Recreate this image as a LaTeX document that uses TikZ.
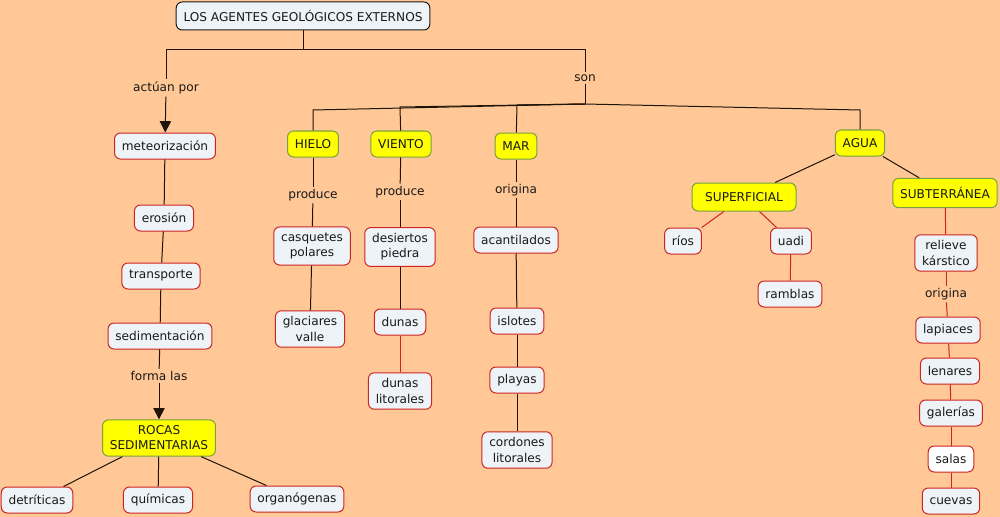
\documentclass[tikz,border=0pt]{standalone}
\usepackage{fontspec}
\setmainfont{DejaVu Sans}
\usetikzlibrary{arrows.meta}

\definecolor{mapbg}{RGB}{255,200,150}
\definecolor{conceptfill}{RGB}{238,243,247}
\definecolor{conceptred}{RGB}{205,35,35}
\definecolor{agentyellow}{RGB}{255,255,0}
\definecolor{agentgreen}{RGB}{120,160,60}
\definecolor{inkdark}{RGB}{25,25,25}
\definecolor{inkline}{RGB}{30,20,10}

\tikzset{every picture/.style={line width=0.75pt}}
\tikzset{
  concept/.style={draw=conceptred, fill=conceptfill, rounded corners=4.5pt,
    inner xsep=5.5pt, inner ysep=4.5pt, minimum height=19.5pt, align=center,
    font=\fontsize{9.1}{11.3}\selectfont, text=inkdark},
  agent/.style={concept, draw=agentgreen, fill=agentyellow},
  phrase/.style={inner sep=1.5pt, font=\fontsize{9.1}{11.3}\selectfont, text=inkdark},
  tie/.style={draw=inkline},
  redtie/.style={draw=conceptred},
  pointer/.style={tie, -{Triangle[width=8.5pt,length=8.5pt]}}
}

\begin{document}
\begin{tikzpicture}[x=0.75pt, y=-0.75pt]
        \fill[mapbg] (0,0) rectangle (1000,517);
        \useasboundingbox (0,0) rectangle (1000,517);
        % title and first split
        \node[concept, draw=inkdark, minimum height=21pt] (title) at (303,16) {LOS AGENTES GEOLÓGICOS EXTERNOS};
        \node[phrase] (actuan) at (166,88) {actúan por};
        \node[phrase] (son) at (585,78) {son};
        \coordinate (fork) at (303,50);
        \coordinate (sonfoot) at (585,104);
        \draw[tie] (title) -- (fork);
        \draw[tie] (fork) -| (actuan);
        \draw[tie] (fork) -| (son);
        \draw[tie] (son) -- (sonfoot);
        % processes
        \node[concept] (meteo) at (165,146) {meteorización};
        \node[concept] (erosion) at (164,218) {erosión};
        \node[concept] (transporte) at (161,276) {transporte};
        \node[concept] (sedimen) at (160,336) {sedimentación};
        \node[phrase] (formalas) at (159,376) {forma las};
        \node[agent] (rocas) at (159,438) {ROCAS\\SEDIMENTARIAS};
        \node[concept] (detriticas) at (37,500) {detríticas};
        \node[concept] (quimicas) at (158,500) {químicas};
        \node[concept] (organogenas) at (297,499) {organógenas};
        \draw[pointer] (actuan) -- (meteo);
        \draw[tie] (meteo) -- (erosion);
        \draw[tie] (erosion) -- (transporte);
        \draw[tie] (transporte) -- (sedimen);
        \draw[tie] (sedimen) -- (formalas);
        \draw[pointer] (formalas) -- (rocas);
        \draw[tie] (rocas) -- (detriticas);
        \draw[tie] (rocas) -- (quimicas);
        \draw[tie] (rocas) -- (organogenas);
        % hielo
        \node[agent] (hielo) at (313,144) {HIELO};
        \node[phrase] (produceA) at (313,195) {produce};
        \node[concept] (casquetes) at (312,246) {casquetes\\polares};
        \node[concept] (glaciares) at (310,329) {glaciares\\valle};
        \draw[tie] (sonfoot) -- (313,110) -- (hielo);
        \draw[tie] (hielo) -- (produceA);
        \draw[tie] (produceA) -- (casquetes);
        \draw[tie] (casquetes) -- (glaciares);
        % viento
        \node[agent] (viento) at (401,144) {VIENTO};
        \node[phrase] (produceB) at (400,192) {produce};
        \node[concept] (desiertos) at (400,247) {desiertos\\piedra};
        \node[concept] (dunas) at (400,322) {dunas};
        \node[concept] (dunaslit) at (400,391) {dunas\\litorales};
        \draw[tie] (sonfoot) -- (400,107) -- (viento);
        \draw[tie] (viento) -- (produceB);
        \draw[tie] (produceB) -- (desiertos);
        \draw[tie] (desiertos) -- (dunas);
        \draw[redtie] (dunas) -- (dunaslit);
        % mar
        \node[agent] (mar) at (516,146) {MAR};
        \node[phrase] (originaA) at (516,190) {origina};
        \node[concept] (acantilados) at (516,240) {acantilados};
        \node[concept] (islotes) at (517,321) {islotes};
        \node[concept] (playas) at (517,380) {playas};
        \node[concept] (cordones) at (517,450) {cordones\\litorales};
        \draw[tie] (sonfoot) -- (517,105) -- (mar);
        \draw[tie] (mar) -- (originaA);
        \draw[tie] (originaA) -- (acantilados);
        \draw[tie] (acantilados) -- (islotes);
        \draw[tie] (islotes) -- (playas);
        \draw[tie] (playas) -- (cordones);
        % agua
        \node[agent] (agua) at (860,143) {AGUA};
        \node[agent, minimum width=78pt, minimum height=21pt] (superficial) at (744,197) {SUPERFICIAL};
        \node[agent, minimum height=22pt] (subterranea) at (945,193) {SUBTERRÁNEA};
        \node[concept] (rios) at (683,241) {ríos};
        \node[concept] (uadi) at (791,241) {uadi};
        \node[concept] (ramblas) at (790,294) {ramblas};
        \node[concept] (karst) at (946,253) {relieve\\kárstico};
        \node[phrase] (originaB) at (946,294) {origina};
        \node[concept] (lapiaces) at (948,330) {lapiaces};
        \node[concept] (lenares) at (950,371) {lenares};
        \node[concept] (galerias) at (951,413) {galerías};
        \node[concept, fill=white] (salas) at (951,459) {salas};
        \node[concept] (cuevas) at (951,501) {cuevas};
        \draw[tie] (sonfoot) -- (860,110) -- (agua);
        \draw[tie] (agua) -- (superficial);
        \draw[tie] (agua) -- (subterranea);
        \draw[redtie] (superficial) -- (rios);
        \draw[redtie] (superficial) -- (uadi);
        \draw[redtie] (uadi) -- (ramblas);
        \draw[redtie] (subterranea) -- (karst);
        \draw[redtie] (karst) -- (originaB);
        \draw[redtie] (originaB) -- (lapiaces);
        \draw[redtie] (lapiaces) -- (lenares);
        \draw[redtie] (lenares) -- (galerias);
        \draw[redtie] (galerias) -- (salas);
        \draw[redtie] (salas) -- (cuevas);
    \end{tikzpicture}
\end{document}
